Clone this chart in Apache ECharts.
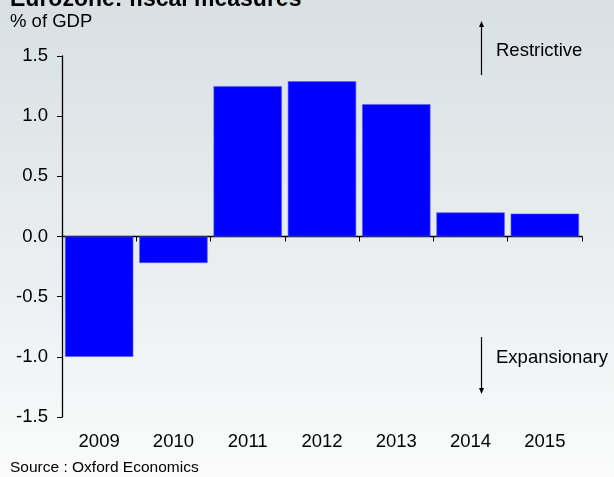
<!DOCTYPE html>
<html>
<head>
<meta charset="utf-8">
<style>
  html, body { margin: 0; padding: 0; }
  #chart { width: 614px; height: 477px; }
</style>
<script src="https://cdn.jsdelivr.net/npm/echarts@6/dist/echarts.min.js"></script>
</head>
<body>
<div id="chart"></div>
<script>
// Eurozone fiscal measures, % of GDP (positive = restrictive, negative = expansionary)
const years = ['2009', '2010', '2011', '2012', '2013', '2014', '2015'];
const fiscalStance = [-1.0, -0.22, 1.25, 1.29, 1.10, 0.2, 0.19];
const yTicks = { min: -1.5, max: 1.5, interval: 0.5 };

const FONT = '"Liberation Sans", Arial, sans-serif';
const chart = echarts.init(document.getElementById('chart'), null, { renderer: 'canvas' });

chart.setOption({
  animation: false,
  backgroundColor: {
    type: 'linear', x: 0, y: 0, x2: 0, y2: 1,
    colorStops: [
      { offset: 0, color: '#d8e0e3' },
      { offset: 0.55, color: '#eaeeef' },
      { offset: 1, color: '#fbfbfb' }
    ]
  },
  textStyle: { fontFamily: FONT },
  grid: { left: 62, right: 32, top: 56, bottom: 60 },
  xAxis: [
    {
      // labels along the bottom of the plot
      type: 'category',
      data: years,
      position: 'bottom',
      axisLine: { show: false, onZero: false },
      axisTick: { show: false },
      axisLabel: { color: '#000', fontSize: 18.5, fontFamily: FONT, margin: 15 }
    },
    {
      // zero line with category boundary ticks
      type: 'category',
      data: years,
      position: 'bottom',
      axisLine: { show: true, onZero: true, lineStyle: { color: '#000', width: 1.3 } },
      axisTick: { show: true, length: 5, lineStyle: { color: '#000' } },
      axisLabel: { show: false }
    }
  ],
  yAxis: {
    type: 'value',
    min: yTicks.min,
    max: yTicks.max,
    interval: yTicks.interval,
    splitLine: { show: false },
    axisLine: { show: true, lineStyle: { color: '#000', width: 1.3 } },
    axisTick: { show: true, length: 5, lineStyle: { color: '#000' } },
    axisLabel: {
      color: '#000', fontSize: 18.5, fontFamily: FONT, margin: 14,
      formatter: v => v.toFixed(1)
    }
  },
  series: [{
    type: 'bar',
    xAxisIndex: 0,
    data: fiscalStance,
    barCategoryGap: '8%',
    itemStyle: { color: '#0000ff', borderColor: '#5a5aff', borderWidth: 0.6 }
  }],
  graphic: [
    {
      type: 'text', left: 10, top: -12,
      style: { text: 'Eurozone: fiscal measures', font: 'bold 23px ' + FONT, fill: '#000' }
    },
    {
      type: 'text', left: 10, top: 12,
      style: { text: '% of GDP', font: '18.5px ' + FONT, fill: '#000' }
    },
    {
      type: 'text', left: 10, top: 460,
      style: { text: 'Source : Oxford Economics', font: '15.5px ' + FONT, fill: '#000' }
    },
    // restrictive arrow
    {
      type: 'line', shape: { x1: 481.5, y1: 75, x2: 481.5, y2: 26 },
      style: { stroke: '#000', lineWidth: 1.2 }
    },
    {
      type: 'polygon', shape: { points: [[481.5, 21], [479, 27], [484, 27]] },
      style: { fill: '#000' }
    },
    {
      type: 'text', left: 496, top: 41,
      style: { text: 'Restrictive', font: '18.5px ' + FONT, fill: '#000' }
    },
    // expansionary arrow
    {
      type: 'line', shape: { x1: 481.5, y1: 337, x2: 481.5, y2: 389 },
      style: { stroke: '#000', lineWidth: 1.2 }
    },
    {
      type: 'polygon', shape: { points: [[481.5, 394], [479, 388], [484, 388]] },
      style: { fill: '#000' }
    },
    {
      type: 'text', left: 496, top: 348,
      style: { text: 'Expansionary', font: '18.5px ' + FONT, fill: '#000' }
    }
  ]
});
</script>
</body>
</html>
